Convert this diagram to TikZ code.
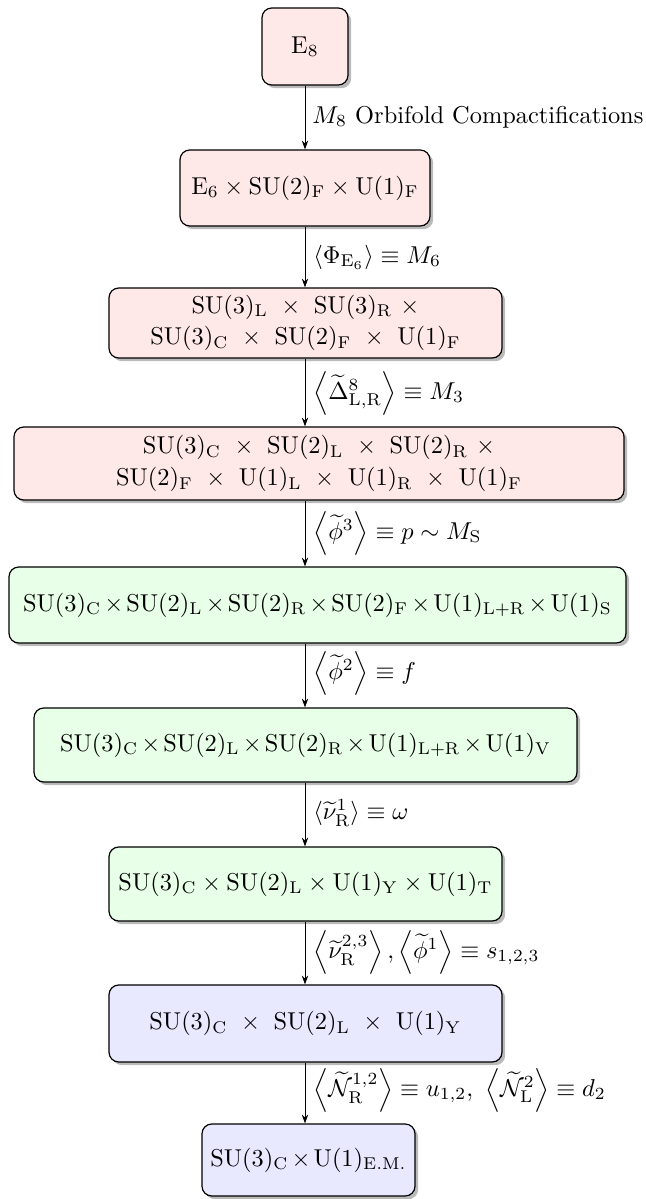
\documentclass[tikz,border=0pt]{standalone}
\usepackage{amsmath}
\usetikzlibrary{shadows,arrows.meta}
\definecolor{pinkfill}{HTML}{FFE8E8}
\definecolor{greenfill}{HTML}{E8FFE8}
\definecolor{bluefill}{HTML}{E8E8FF}
\newcommand{\rmsub}[1]{_{\mathrm{#1}}}
\newcommand{\tx}{\mkern-1.7mu\times\mkern-1.7mu}
\tikzset{
  grp/.style={draw=black, line width=0.5pt, rounded corners=4pt, align=center,
    inner sep=0pt, drop shadow={shadow xshift=1.3pt, shadow yshift=-1.3pt, fill=black!60, opacity=0.45}},
  pinkbox/.style={grp, fill=pinkfill},
  greenbox/.style={grp, fill=greenfill},
  bluebox/.style={grp, fill=bluefill},
  flow/.style={-{Stealth[length=3.6pt,width=2.6pt]}, line width=0.4pt},
  lab/.style={anchor=west, inner sep=0pt},
}
\begin{document}
\begin{tikzpicture}[x=0.41pt,y=-0.41pt]
\useasboundingbox (0,0) rectangle (646,1199);
% symmetry-breaking chain, top to bottom
\node[pinkbox, minimum width=86*0.41pt, minimum height=77*0.41pt] (e8) at (305,46.5) {$\mathrm{E}_8$};
\node[pinkbox, minimum width=250*0.41pt, minimum height=76*0.41pt] (e6) at (305,188)
  {$\mathrm{E}_6\times\mathrm{SU}(2)\rmsub{F}\times\mathrm{U}(1)\rmsub{F}$};
\node[pinkbox, minimum width=393*0.41pt, minimum height=70*0.41pt] (su3l) at (305.5,323)
  {$\mathrm{SU}(3)\rmsub{L}\ \times\ \mathrm{SU}(3)\rmsub{R}\ \times$\\[1pt]
   $\mathrm{SU}(3)\rmsub{C}\ \times\ \mathrm{SU}(2)\rmsub{F}\ \times\ \mathrm{U}(1)\rmsub{F}$};
\node[pinkbox, minimum width=610*0.41pt, minimum height=73*0.41pt] (su3c) at (319,463.5)
  {$\mathrm{SU}(3)\rmsub{C}\ \times\ \mathrm{SU}(2)\rmsub{L}\ \times\ \mathrm{SU}(2)\rmsub{R}\ \times$\\[1pt]
   $\mathrm{SU}(2)\rmsub{F}\ \times\ \mathrm{U}(1)\rmsub{L}\ \times\ \mathrm{U}(1)\rmsub{R}\ \times\ \mathrm{U}(1)\rmsub{F}$};
\node[greenbox, minimum width=617*0.41pt, minimum height=76*0.41pt] (g1) at (317.5,605)
  {$\mathrm{SU}(3)\rmsub{C}\tx\mathrm{SU}(2)\rmsub{L}\tx\mathrm{SU}(2)\rmsub{R}\tx\mathrm{SU}(2)\rmsub{F}\tx\mathrm{U}(1)\rmsub{L+R}\tx\mathrm{U}(1)\rmsub{S}$};
\node[greenbox, minimum width=543*0.41pt, minimum height=74*0.41pt] (g2) at (305.5,745)
  {$\mathrm{SU}(3)\rmsub{C}\tx\mathrm{SU}(2)\rmsub{L}\tx\mathrm{SU}(2)\rmsub{R}\tx\mathrm{U}(1)\rmsub{L+R}\tx\mathrm{U}(1)\rmsub{V}$};
\node[greenbox, minimum width=393*0.41pt, minimum height=74*0.41pt] (g3) at (305.5,884)
  {$\mathrm{SU}(3)\rmsub{C}\times\mathrm{SU}(2)\rmsub{L}\times\mathrm{U}(1)\rmsub{Y}\times\mathrm{U}(1)\rmsub{T}$};
\node[bluebox, minimum width=393*0.41pt, minimum height=77*0.41pt] (b1) at (305.5,1023.5)
  {$\mathrm{SU}(3)\rmsub{C}\ \times\ \mathrm{SU}(2)\rmsub{L}\ \times\ \mathrm{U}(1)\rmsub{Y}$};
\node[bluebox, minimum width=213*0.41pt, minimum height=72*0.41pt] (b2) at (308.5,1160)
  {$\mathrm{SU}(3)\rmsub{C}\tx\mathrm{U}(1)\rmsub{E.M.}$};
% breaking steps
\coordinate (ax) at (305,0);
\draw[flow] (e8.south) -- (e8.south |- e6.north);
\draw[flow] (e6.south) -- (e6.south |- su3l.north);
\draw[flow] (ax |- su3l.south) -- (ax |- su3c.north);
\draw[flow] (ax |- su3c.south) -- (ax |- g1.north);
\draw[flow] (ax |- g1.south) -- (ax |- g2.north);
\draw[flow] (ax |- g2.south) -- (ax |- g3.north);
\draw[flow] (ax |- g3.south) -- (ax |- b1.north);
\draw[flow] (ax |- b1.south) -- (ax |- b2.north);
% vacuum expectation values
\node[lab] (l1) at (312,117) {$M_8$ Orbifold Compactifications};
\node[lab] (l2) at (313,257) {$\langle\Phi_{\mathrm{E}_6}\rangle\equiv M_6$};
\node[lab] (l3) at (313,393) {$\left\langle\widetilde{\Delta}^8_{\mathrm{L,R}}\right\rangle\equiv M_3$};
\node[lab] (l4) at (313,533) {$\left\langle\widetilde{\phi}^3\right\rangle\equiv p\sim M\rmsub{S}$};
\node[lab] (l5) at (313,673) {$\left\langle\widetilde{\phi}^2\right\rangle\equiv f$};
\node[lab] (l6) at (313,813) {$\langle\widetilde{\nu}^1\rmsub{R}\rangle\equiv \omega$};
\node[lab] (l7) at (313,952) {$\left\langle\widetilde{\nu}^{2,3}\rmsub{R}\right\rangle,\left\langle\widetilde{\phi}^1\right\rangle\equiv s_{1,2,3}$};
\node[lab] (l8) at (313,1090) {$\left\langle\widetilde{\mathcal{N}}^{1,2}\rmsub{R}\right\rangle\equiv u_{1,2},\ \left\langle\widetilde{\mathcal{N}}^{2}\rmsub{L}\right\rangle\equiv d_2$};
\end{tikzpicture}
\end{document}
